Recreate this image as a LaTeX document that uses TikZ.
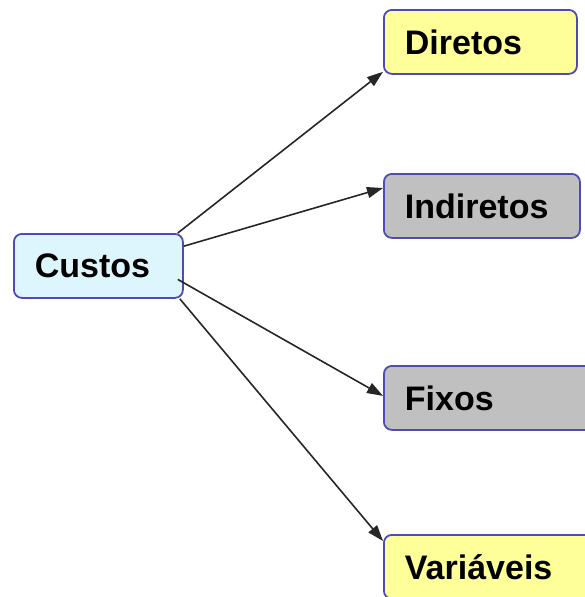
\documentclass[tikz,border=0pt]{standalone}
\usepackage{fontspec}
\setmainfont{Liberation Sans}
\usepackage{tikz}
\usetikzlibrary{arrows.meta, positioning}
\definecolor{boxborder}{RGB}{80, 75, 180}
\definecolor{custosfill}{RGB}{221, 245, 253}
\definecolor{yellowfill}{RGB}{255, 255, 153}
\definecolor{grayfill}{RGB}{192, 192, 192}

\begin{document}
\begin{tikzpicture}[x=1pt, y=-1pt,
        box/.style={draw=boxborder, line width=1.8pt, rounded corners=8pt, anchor=north west,
            minimum height=64pt, inner xsep=21pt, inner ysep=0pt, align=left,
            font=\fontsize{34}{40}\selectfont\bfseries},
        link/.style={-{Triangle[length=16pt, width=11pt]}, line width=1.6pt, black!85}]
        \useasboundingbox (0,0) rectangle (584,597);
        \node[box, fill=custosfill, text width=127pt] (custos) at (13,233) {Custos};
        \node[box, fill=yellowfill, text width=151pt] (diretos) at (383,9) {Diretos};
        \node[box, fill=grayfill, text width=154pt] (indiretos) at (383,173) {Indiretos};
        \node[box, fill=grayfill, text width=190pt] (fixos) at (383,365) {Fixos};
        \node[box, fill=yellowfill, text width=190pt] (variaveis) at (383,534) {Variáveis};
        \draw[link] ([xshift=-6pt]custos.north east) -- ([yshift=3pt]diretos.south west);
        \draw[link] (custos.13) -- ([yshift=-15pt]indiretos.north west);
        \draw[link] ([xshift=-6pt]custos.-9) -- ([yshift=2pt]fixos.west);
        \draw[link] ([xshift=-4pt]custos.south east) -- ([yshift=-7pt]variaveis.north west);
    \end{tikzpicture}
\end{document}
